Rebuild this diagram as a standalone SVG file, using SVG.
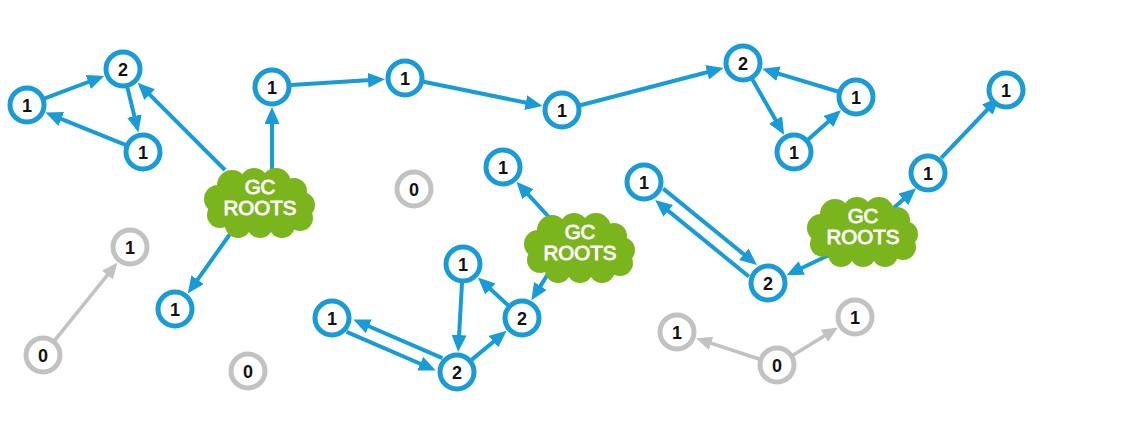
<svg xmlns="http://www.w3.org/2000/svg" width="1133" height="447" viewBox="0 0 1133 447">
<style>
.e{stroke:#189bd6;stroke-width:4;fill:none;marker-end:url(#ab)}
.g{stroke:#c2c2c2;stroke-width:3.5;fill:none;marker-end:url(#ag)}
.n circle{fill:#fff;stroke:#189bd6;stroke-width:5}
.o circle{fill:#fff;stroke:#c2c2c2;stroke-width:5}
.n text,.o text{font-family:"Liberation Sans",Arial,sans-serif;font-weight:bold;font-size:18px;fill:#111;text-anchor:middle}
.c text{font-family:"Liberation Sans",Arial,sans-serif;font-size:20.5px;fill:#fff;stroke:#fff;stroke-width:0.9;text-anchor:middle}
</style>
<defs>
<marker id="ab" markerUnits="userSpaceOnUse" viewBox="0 0 17 15" markerWidth="17" markerHeight="15" refX="7" refY="7.5" orient="auto"><path d="M0,0L17,7.5L0,15z" fill="#189bd6"/></marker>
<marker id="ag" markerUnits="userSpaceOnUse" viewBox="0 0 16 14" markerWidth="16" markerHeight="14" refX="6" refY="7" orient="auto"><path d="M0,0L16,7L0,14z" fill="#c2c2c2"/></marker>
<g id="cloud" fill="#7ab51d">
<ellipse cx="0" cy="0" rx="44" ry="25"/>
<circle cx="-28" cy="-18" r="15"/><circle cx="-6" cy="-21" r="14"/><circle cx="16" cy="-20" r="15"/><circle cx="34" cy="-12" r="13"/>
<circle cx="-42" cy="-4" r="14"/><circle cx="-40" cy="12" r="13"/><circle cx="42" cy="2" r="13"/><circle cx="40" cy="15" r="13"/>
<circle cx="-22" cy="22" r="13"/><circle cx="0" cy="22" r="13"/><circle cx="22" cy="22" r="13"/>
</g>
</defs>
<g id="connectors">
<line class="e" x1="44.8" y1="98.3" x2="94.9" y2="79.5"/>
<line class="e" x1="127.4" y1="87.5" x2="136" y2="122.9"/>
<line class="e" x1="125.4" y1="144.9" x2="54.8" y2="116.3"/>
<line class="e" x1="225" y1="170" x2="144.7" y2="89.7"/>
<line class="e" x1="272" y1="185" x2="272" y2="117"/>
<line class="e" x1="240" y1="220" x2="193.5" y2="285.4"/>
<line class="e" x1="291" y1="84.9" x2="375" y2="79.8"/>
<line class="e" x1="423.6" y1="81.8" x2="532.6" y2="104"/>
<line class="e" x1="580.4" y1="105.2" x2="713.9" y2="70.5"/>
<line class="e" x1="752.4" y1="79.5" x2="779.1" y2="126"/>
<line class="e" x1="808.2" y1="139.4" x2="833.5" y2="116.9"/>
<line class="e" x1="837.8" y1="91.5" x2="771.8" y2="71.7"/>
<line class="e" x1="570" y1="240" x2="523.2" y2="189.2"/>
<line class="e" x1="560" y1="255" x2="536.7" y2="291.9"/>
<line class="e" x1="508" y1="305.2" x2="485.2" y2="284.3"/>
<line class="e" x1="462" y1="283" x2="458.7" y2="342"/>
<line class="e" x1="471.6" y1="359.9" x2="498.9" y2="337.2"/>
<line class="e" x1="346.6" y1="331.9" x2="426.6" y2="366.5"/>
<line class="e" x1="442.4" y1="358.1" x2="362.4" y2="323.5"/>
<line class="e" x1="663.2" y1="188.6" x2="749.2" y2="258.7"/>
<line class="e" x1="748.8" y1="276.5" x2="662.8" y2="206.4"/>
<line class="e" x1="850" y1="245" x2="795.5" y2="271"/>
<line class="e" x1="880" y1="220" x2="908.6" y2="194.8"/>
<line class="e" x1="941.1" y1="158.2" x2="992.2" y2="104.5"/>
<line class="g" x1="54.9" y1="340.2" x2="111.2" y2="270.4"/>
<line class="g" x1="759" y1="359" x2="705.5" y2="341.4"/>
<line class="g" x1="793.2" y1="355" x2="829.5" y2="332.7"/>
</g>
<g id="root1" class="c"><use href="#cloud" x="260" y="203"/><text x="260" y="194">GC</text><text x="260" y="215">ROOTS</text></g>
<g id="root2" class="c"><use href="#cloud" x="580" y="248"/><text x="580" y="239">GC</text><text x="580" y="260">ROOTS</text></g>
<g id="root3" class="c"><use href="#cloud" x="863" y="232"/><text x="863" y="223">GC</text><text x="863" y="244">ROOTS</text></g>
<g id="nA" class="n"><circle cx="27" cy="105" r="17"/><text x="27" y="111.5">1</text></g>
<g id="nB" class="n"><circle cx="123" cy="69" r="17"/><text x="123" y="75.5">2</text></g>
<g id="nC" class="n"><circle cx="143" cy="152" r="17"/><text x="143" y="158.5">1</text></g>
<g id="nD" class="n"><circle cx="272" cy="87" r="17"/><text x="272" y="93.5">1</text></g>
<g id="nE" class="n"><circle cx="405" cy="78" r="17"/><text x="405" y="84.5">1</text></g>
<g id="nF" class="n"><circle cx="562" cy="110" r="17"/><text x="562" y="116.5">1</text></g>
<g id="nG" class="n"><circle cx="743" cy="63" r="17"/><text x="743" y="69.5">2</text></g>
<g id="nH" class="n"><circle cx="856" cy="97" r="17"/><text x="856" y="103.5">1</text></g>
<g id="nI" class="n"><circle cx="794" cy="152" r="17"/><text x="794" y="158.5">1</text></g>
<g id="nJ" class="n"><circle cx="1006" cy="90" r="17"/><text x="1006" y="96.5">1</text></g>
<g id="nK" class="n"><circle cx="928" cy="173" r="17"/><text x="928" y="179.5">1</text></g>
<g id="nL" class="n"><circle cx="503" cy="167" r="17"/><text x="503" y="173.5">1</text></g>
<g id="nM" class="n"><circle cx="644" cy="182" r="17"/><text x="644" y="188.5">1</text></g>
<g id="nN" class="n"><circle cx="768" cy="283" r="17"/><text x="768" y="289.5">2</text></g>
<g id="nO" class="n"><circle cx="175" cy="309" r="17"/><text x="175" y="315.5">1</text></g>
<g id="nP" class="n"><circle cx="463" cy="264" r="17"/><text x="463" y="270.5">1</text></g>
<g id="nQ" class="n"><circle cx="522" cy="318" r="17"/><text x="522" y="324.5">2</text></g>
<g id="nR" class="n"><circle cx="332" cy="318" r="17"/><text x="332" y="324.5">1</text></g>
<g id="nS" class="n"><circle cx="457" cy="372" r="17"/><text x="457" y="378.5">2</text></g>
<g id="g1" class="o"><circle cx="130" cy="247" r="17"/><text x="130" y="253.5">1</text></g>
<g id="g2" class="o"><circle cx="43" cy="355" r="17"/><text x="43" y="361.5">0</text></g>
<g id="g3" class="o"><circle cx="414" cy="189" r="17"/><text x="414" y="195.5">0</text></g>
<g id="g4" class="o"><circle cx="248" cy="371" r="17"/><text x="248" y="377.5">0</text></g>
<g id="g5" class="o"><circle cx="677" cy="332" r="17"/><text x="677" y="338.5">1</text></g>
<g id="g6" class="o"><circle cx="777" cy="365" r="17"/><text x="777" y="371.5">0</text></g>
<g id="g7" class="o"><circle cx="855" cy="317" r="17"/><text x="855" y="323.5">1</text></g>
</svg>
